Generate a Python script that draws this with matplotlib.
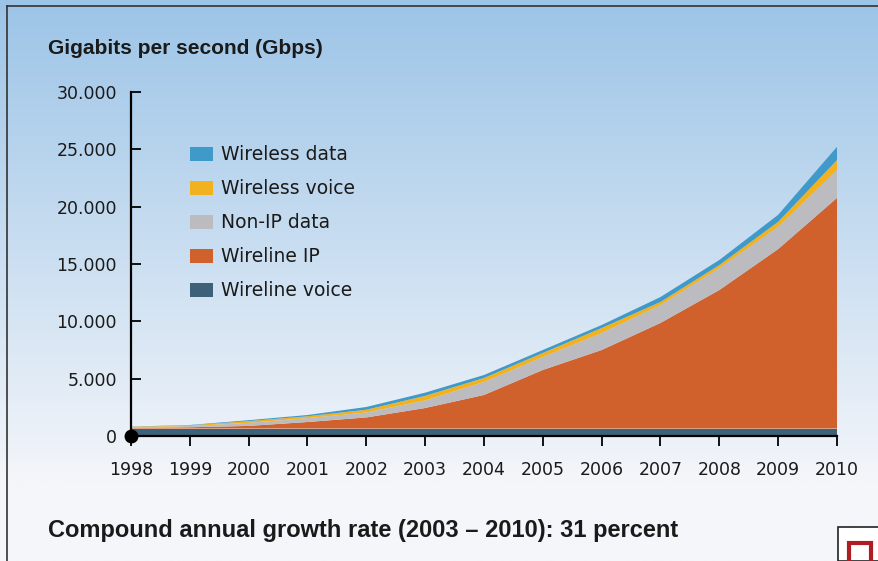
import numpy as np
import matplotlib
matplotlib.use('Agg')
from matplotlib import pyplot as plt
from matplotlib.patches import Rectangle, Patch

plt.rcParams['font.family'] = ['Liberation Sans', 'DejaVu Sans']

years = [1998, 1999, 2000, 2001, 2002, 2003, 2004, 2005, 2006, 2007, 2008, 2009, 2010]
# layer thickness in Gbps, bottom to top
wireline_voice = [650, 650, 650, 650, 650, 650, 650, 650, 650, 650, 650, 650, 650]
wireline_ip = [50, 110, 230, 570, 970, 1790, 2930, 5110, 6850, 9210, 12080, 15650, 20110]
non_ip_data = [60, 110, 270, 340, 430, 660, 1130, 1130, 1480, 1560, 1920, 1950, 2440]
wireless_voice = [40, 60, 150, 160, 240, 400, 350, 350, 440, 270, 260, 430, 870]
wireless_data = [20, 30, 80, 110, 240, 280, 260, 260, 260, 430, 440, 610, 1150]

series_names = ['Wireline voice', 'Wireline IP', 'Non-IP data', 'Wireless voice', 'Wireless data']
series_colors = ['#3d6178', '#d0602c', '#bcbcc0', '#f2b21f', '#3f9ac9']

y_ticks = [0, 5000, 10000, 15000, 20000, 25000, 30000]
y_labels = ['0', '5.000', '10.000', '15.000', '20.000', '25.000', '30.000']

fig = plt.figure(figsize=(8.79, 5.61), dpi=100)

# background gradient
bg = fig.add_axes([0, 0, 1, 1], zorder=0)
rows = np.linspace(0, 1, 256)[:, None]
top_c = np.array([156, 196, 231]) / 255.0
bot_c = np.array([244, 246, 250]) / 255.0
t = np.clip(rows / 0.86, 0, 1)
grad = top_c * (1 - t[..., None]) + bot_c * t[..., None]
grad = np.repeat(grad, 2, axis=1)
bg.imshow(grad, aspect='auto', extent=[0, 1, 0, 1], origin='upper')
bg.set_xlim(0, 1)
bg.set_ylim(0, 1)
bg.axis('off')
# outer frame lines
bg.plot([7 / 879, 7 / 879], [0, 1 - 6 / 561], color='#333333', lw=1.2)
bg.plot([7 / 879, 1], [1 - 6 / 561, 1 - 6 / 561], color='#333333', lw=1.2)
# corner logo box
bg.add_patch(Rectangle((838 / 879, 0), 41 / 879, 34 / 561, facecolor='white',
                       edgecolor='#222222', lw=1.2))
bg.add_patch(Rectangle((849 / 879, -0.01), 22 / 879, 24 / 561, facecolor='none',
                       edgecolor='#b01c24', lw=3))

ax = fig.add_axes([131 / 879, 1 - 436 / 561, (837 - 131) / 879, (436 - 92) / 561], zorder=1)
ax.patch.set_alpha(0)

ax.stackplot(years, wireline_voice, wireline_ip, non_ip_data, wireless_voice, wireless_data,
             colors=series_colors, linewidth=0)

ax.set_xlim(1998, 2010)
ax.set_ylim(0, 30000)
ax.spines['top'].set_visible(False)
ax.spines['right'].set_visible(False)
ax.spines['left'].set_linewidth(1.6)
ax.spines['bottom'].set_linewidth(1.6)

tick_font = {'family': ['DejaVu Sans'], 'size': 12.5, 'color': '#1a1a1a'}
ax.set_xticks(years)
ax.set_xticklabels([str(y) for y in years], **tick_font)
ax.set_yticks(y_ticks)
ax.set_yticklabels(y_labels, **tick_font)
ax.tick_params(axis='x', direction='out', length=7, width=1.3, pad=11)
ax.tick_params(axis='y', direction='in', length=7, width=1.3, pad=10)

ax.plot([1998], [0], 'o', color='black', markersize=9, clip_on=False, zorder=5)

handles = [Patch(facecolor=c, edgecolor='none') for c in series_colors][::-1]
ax.legend(handles, series_names[::-1], loc='upper left', bbox_to_anchor=(0.0836, 0.845),
          frameon=False, prop={'family': ['DejaVu Sans'], 'size': 13.5},
          handlelength=1.2, handleheight=0.8, labelspacing=0.8, handletextpad=0.45,
          borderpad=0, borderaxespad=0, labelcolor='#1a1a1a')

fig.text(48 / 879, 1 - 48 / 561, 'Gigabits per second (Gbps)', fontsize=15,
         fontweight='bold', color='#1a1a1a', va='center', ha='left')
fig.text(48 / 879, 1 - 530 / 561, 'Compound annual growth rate (2003 \u2013 2010): 31 percent',
         fontsize=17, fontweight='bold', color='#1a1a1a', va='center', ha='left')

fig.savefig('out.png', dpi=100)
